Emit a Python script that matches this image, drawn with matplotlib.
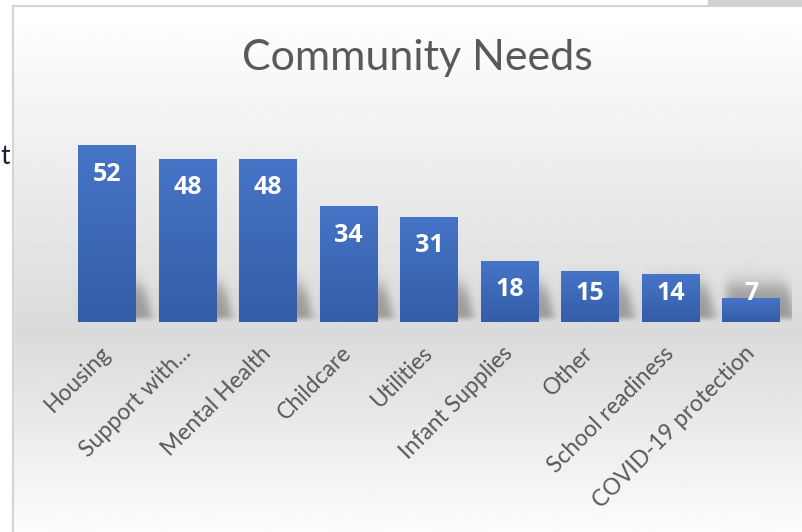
import numpy as np
import matplotlib
matplotlib.use("Agg")
import matplotlib.pyplot as plt
import matplotlib.patches as patches

categories = ["Housing", "Support with...", "Mental Health", "Childcare", "Utilities",
              "Infant Supplies", "Other", "School readiness", "COVID-19 protection"]
values = [52, 48, 48, 34, 31, 18, 15, 14, 7]
title = "Community Needs"

W, H = 802, 532
fig = plt.figure(figsize=(W / 100, H / 100), dpi=100)

# background (pixel coords)
bg = fig.add_axes([0, 0, 1, 1])
bg.set_xlim(0, W)
bg.set_ylim(H, 0)
bg.axis("off")
yy = np.linspace(0, H, 400)
shade = np.interp(yy, [0, 6, 140, 330, 532], [1.0, 1.0, 0.94, 0.855, 0.99])
grad = np.repeat(shade[:, None], 2, axis=1)
bg.imshow(grad, cmap="gray", vmin=0, vmax=1, extent=[13, W, H, 6], aspect="auto", zorder=0)
bg.add_patch(patches.Rectangle((0, 0), W, 6, color="white", zorder=1))
bg.add_patch(patches.Rectangle((0, 0), 13, H, color="white", zorder=1))
bg.add_patch(patches.Rectangle((708, 0), W - 708, 5, color="#d2d2d2", zorder=2))
bg.plot([13, W], [6, 6], color="#d4d4d4", lw=1.5, zorder=3)
bg.plot([13, 13], [6, H], color="#d4d4d4", lw=1.5, zorder=3)
bg.text(0.5, 157, "t", fontsize=19, color="#1c1c3c", family="Lato", va="center", ha="left")

fig.text(417 / W, 1 - 58 / H, title, fontsize=31, color="#595959", family="Lato",
         ha="center", va="center")

ax = fig.add_axes([66.75 / W, (H - 322) / H, 724.5 / W, 204 / H])
ax.set_facecolor("none")
x = np.arange(len(categories))
bars = ax.bar(x, values, width=0.72, color="#4472c4", zorder=3)

# bar gradient
bar_grad = np.linspace(0, 1, 100)[:, None]
cmap = matplotlib.colors.LinearSegmentedColormap.from_list("b", ["#4674c7", "#345da8"])
for b in bars:
    im = ax.imshow(bar_grad, cmap=cmap, aspect="auto", zorder=4,
                   extent=[b.get_x(), b.get_x() + b.get_width(), 0, b.get_height()])
    im.set_clip_path(b)

# soft shadow behind bars
gx = np.linspace(-0.5, len(categories) - 0.5, 900)
gy = np.linspace(-3, 22, 250)
GX, GY = np.meshgrid(gx, gy)
alpha = np.zeros_like(GX)
for b in bars:
    x0 = b.get_x() + 0.05
    x1 = b.get_x() + b.get_width() + 0.2 - 0.12 * (GY / 12)
    sx = 0.5 * (np.tanh((GX - x0) / 0.06) - np.tanh((GX - x1) / 0.07))
    sy = 0.5 * (np.tanh((GY - 1.0) / 0.8) - np.tanh((GY - 11) / 3.0))
    alpha = np.maximum(alpha, sx * sy)
rgba = np.zeros(GX.shape + (4,))
rgba[..., 3] = alpha * 0.3
ax.imshow(rgba, extent=[gx[0], gx[-1], gy[0], gy[-1]], origin="lower", aspect="auto", zorder=2)
ax.set_xlim(-0.5, len(categories) - 0.5)
ax.set_ylim(0, 60)

for xi, v in zip(x, values):
    ly = max(v - 8.5, 8.4)
    ax.text(xi, ly, str(v), ha="center", va="center", color="white", fontsize=18,
            fontweight="bold", family="Open Sans", zorder=6)

for s in ax.spines.values():
    s.set_visible(False)
ax.set_yticks([])
ax.set_xticks(x)
ax.set_xticklabels(categories, rotation=45, ha="right", va="center", rotation_mode="anchor",
                   fontsize=16.5, color="#595959", family="Lato")
ax.tick_params(axis="x", length=0, pad=20)

fig.savefig("out.png", dpi=100)
